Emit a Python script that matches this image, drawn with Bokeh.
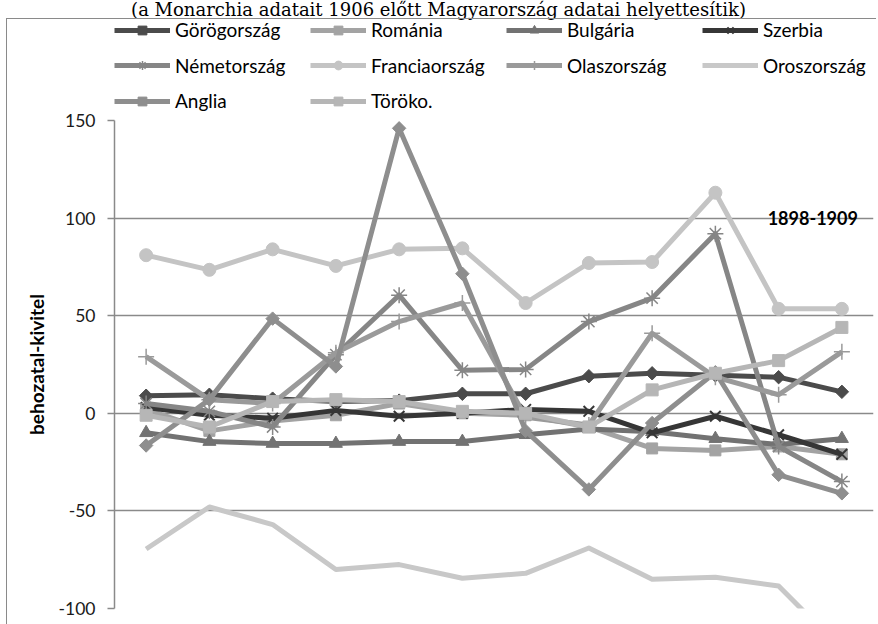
from bokeh.plotting import figure
from bokeh.layouts import column
from bokeh.models import (FactorRange, Range1d, Legend, LegendItem, Label, FixedTicker,
                          InlineStyleSheet)
from bokeh.core.properties import value
from bokeh.embed import file_html
from bokeh.resources import INLINE
import math

years = ["1898", "1899", "1900", "1901", "1902", "1903", "1904", "1905", "1906", "1907", "1908", "1909"]

gorogorszag = [9, 9.5, 7.5, 6, 6.5, 10, 10, 19, 20.5, 19.5, 18.5, 11]
romania = [2, -9, -4, -1, 5, 0, -1, -7, -18, -19, -17, -21]
bulgaria = [-10, -14.5, -15.5, -15.5, -14.5, -14.5, -11, -8, -9.5, -13, -16, -13]
szerbia = [3, -1, -2.5, 1.5, -1.5, 0, 2, 1, -10, -1.5, -11, -21]
nemetorszag = [5, 1, -7, 30, 60.5, 22, 22.5, 47, 59, 92, -17, -35]
franciaorszag = [81, 73.5, 84, 75.5, 84, 84.5, 56.5, 77, 77.5, 113, 53.5, 53.5]
olaszorszag = [29, 7, 5, 31, 47, 56.5, -2, -6, 41, 18.5, 9.5, 31.5]
oroszorszag = [-69.5, -48, -57, -80, -77.5, -84.5, -82, -69, -85, -84, -88.5, -121]
anglia = [-16.5, 7, 48.5, 24, 146, 71.5, -9, -39, -5, 21, -31.5, -41]
toroko = [-1, -7, 6, 7, 6, 1, 0, -7, 12, 20.5, 27, 44]

series_names = ["Görögország", "Románia", "Bulgária", "Szerbia", "Németország",
                "Franciaország", "Olaszország", "Oroszország", "Anglia", "Töröko."]
series_values = [gorogorszag, romania, bulgaria, szerbia, nemetorszag,
                 franciaorszag, olaszorszag, oroszorszag, anglia, toroko]

title_text = "(a Monarchia adatait 1906 előtt Magyarország adatai helyettesítik)"
y_label = "behozatal-kivitel"
period_text = "1898-1909"
y_ticks = [-100, -50, 0, 50, 100, 150]
y_tick_labels = ["-100", "-50", "0", "50", "100", "150"]

styles = [
    dict(color="#4b4b4b", marker="square", size=9.5, angle=math.pi / 4, mlw=1),
    dict(color="#a3a3a3", marker="square", size=11, angle=0, mlw=1),
    dict(color="#727272", marker="triangle", size=13, angle=0, mlw=1),
    dict(color="#363636", marker="x", size=15, angle=0, mlw=2),
    dict(color="#868686", marker="asterisk", size=16, angle=0, mlw=1.5),
    dict(color="#c4c4c4", marker="circle", size=13, angle=0, mlw=1),
    dict(color="#9a9a9a", marker="cross", size=16, angle=0, mlw=1.5),
    dict(color="#c8c8c8", marker=None, size=0, angle=0, mlw=1),
    dict(color="#8e8e8e", marker="square", size=9.5, angle=math.pi / 4, mlw=1),
    dict(color="#b6b6b6", marker="square", size=12, angle=0, mlw=1),
]

W = 876
HEAD_H = 111
MAIN_H = 513
FRAME_L = 114
FRAME_R = 873
GRAY = "#8a8a8a"

# ---------- header: title and legend ----------
head = figure(width=W, height=HEAD_H, x_range=Range1d(FRAME_L, FRAME_R), y_range=Range1d(HEAD_H, 0),
              output_backend="svg", toolbar_location=None,
              min_border_left=FRAME_L, min_border_right=W - FRAME_R,
              min_border_top=0, min_border_bottom=0)
head.axis.visible = False
head.grid.visible = False
head.outline_line_color = None
head.add_layout(Label(x=438, y=9, text=title_text, text_font="DejaVu Serif",
                      text_font_size="18px", text_align="center", text_baseline="alphabetic",
                      text_color="#000000"))

col_x = [114, 310, 506, 702]
row_y = [30, 65.5, 101]
for i, (name, st) in enumerate(zip(series_names, styles)):
    rs = [head.line([-60, -50], [-60, -60], line_color=st["color"], line_width=5)]
    if st["marker"]:
        rs.append(head.scatter([-55], [-60], marker=st["marker"], size=st["size"], angle=st["angle"],
                               fill_color=st["color"], line_color=st["color"], line_width=st["mlw"]))
    row, col = divmod(i, 4)
    leg = Legend(items=[LegendItem(label=value(name), renderers=rs)],
                 location=(col_x[col] - FRAME_L, HEAD_H - row_y[row] - 11),
                 orientation="horizontal", padding=0, margin=0, spacing=0,
                 glyph_width=56, glyph_height=22, label_height=22, label_standoff=5,
                 label_text_font="Lato", label_text_font_size="19px", label_text_color="#000000",
                 border_line_alpha=0, background_fill_alpha=0)
    head.add_layout(leg)

# ---------- main chart ----------
p = figure(width=W, height=MAIN_H,
           x_range=FactorRange(*years, range_padding=0),
           y_range=Range1d(-100, 150),
           output_backend="svg", toolbar_location=None,
           min_border_left=FRAME_L, min_border_right=W - FRAME_R,
           min_border_top=9, min_border_bottom=16)

p.outline_line_color = None
p.xaxis.visible = False
p.xgrid.visible = False
p.ygrid.grid_line_color = GRAY
p.ygrid.grid_line_width = 1.5
yax = p.yaxis[0]
yax.ticker = FixedTicker(ticks=y_ticks)
yax.major_label_overrides = {t: s for t, s in zip(y_ticks, y_tick_labels)}
yax.axis_line_color = GRAY
yax.axis_line_width = 1.5
yax.major_tick_line_color = GRAY
yax.major_tick_line_width = 1.5
yax.major_tick_out = 7
yax.major_tick_in = 0
yax.minor_tick_line_color = None
yax.major_label_standoff = 12
yax.major_label_text_font = "Lato"
yax.major_label_text_font_size = "17.5px"
yax.major_label_text_color = "#1a1a1a"
yax.axis_label = y_label
yax.axis_label_text_font = "Lato"
yax.axis_label_text_font_style = "bold"
yax.axis_label_text_font_size = "19px"
yax.axis_label_text_color = "#000000"
yax.axis_label_standoff = 8

for name, vals, st in zip(series_names, series_values, styles):
    p.line(years, vals, line_color=st["color"], line_width=5, line_join="round")
    if st["marker"]:
        p.scatter(years, vals, marker=st["marker"], size=st["size"], angle=st["angle"],
                  fill_color=st["color"], line_color=st["color"], line_width=st["mlw"])

p.add_layout(Label(x=11.04, y=100, text=period_text, text_font="Lato",
                   text_font_style="bold", text_font_size="18px", text_align="center",
                   text_baseline="middle", text_color="#000000"))

border_css = InlineStyleSheet(css="""
:host { position: relative; }
:host::after {
  content: ""; position: absolute; left: 6px; top: 18px; right: 0; bottom: 0;
  border-left: 1.5px solid #8a8a8a; border-top: 1.5px solid #8a8a8a;
  pointer-events: none;
}
""")

layout = column(head, p, spacing=0, stylesheets=[border_css])
open("out.html", "w").write(file_html(layout, INLINE))
